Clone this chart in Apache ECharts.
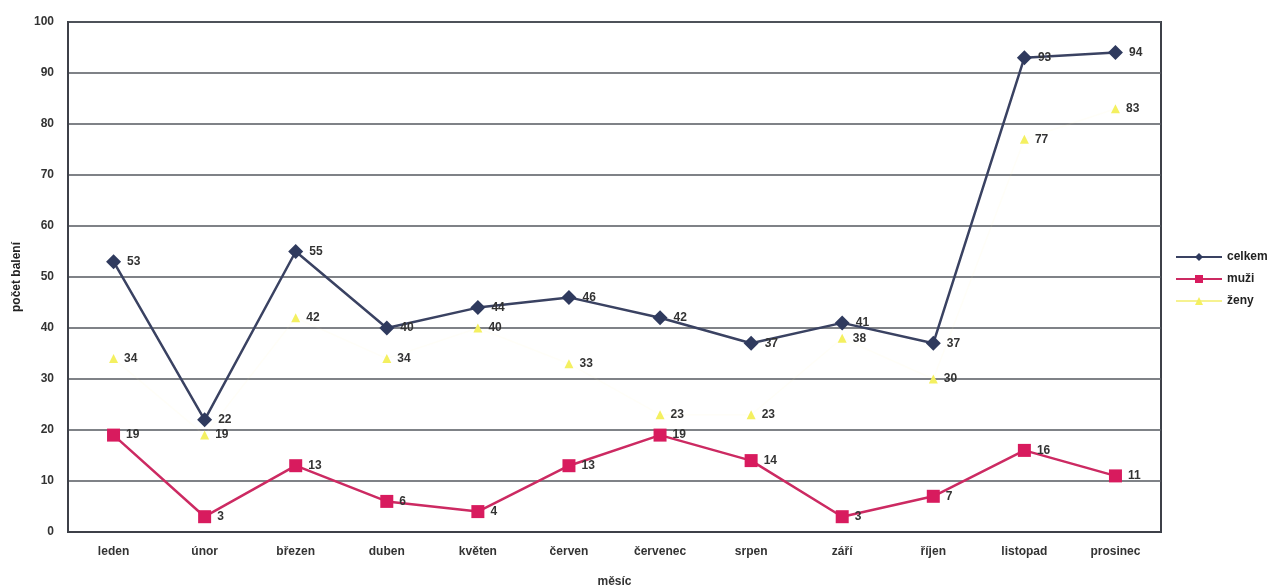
<!DOCTYPE html>
<html><head><meta charset="utf-8">
<script src="https://cdn.jsdelivr.net/npm/echarts@6/dist/echarts.min.js"></script>
<style>html,body{margin:0;padding:0;background:#fff}#c{width:1275px;height:586px}</style>
</head><body><div id="c"></div>
<script>
const categories = ['leden','únor','březen','duben','květen','červen','červenec','srpen','září','říjen','listopad','prosinec'];
const celkem = [53,22,55,40,44,46,42,37,41,37,93,94];
const muzi = [19,3,13,6,4,13,19,14,3,7,16,11];
const zeny = [34,19,42,34,40,33,23,23,38,30,77,83];
const seriesNames = ['celkem','muži','ženy'];

const font = 'Liberation Sans, Arial, sans-serif';
const lbl = {show:true, position:'right', distance:6, fontFamily:font, fontWeight:'bold', fontSize:12, color:'#333'};
const chart = echarts.init(document.getElementById('c'));
chart.setOption({
  animation:false,
  backgroundColor:'#fff',
  grid:{left:68, right:114, top:22, bottom:54, outerBoundsMode:'none', containLabel:false, show:true, borderColor:'#3d4048', borderWidth:2},
  legend:{orient:'vertical', left:1170, top:246, itemGap:10, itemWidth:46, itemHeight:10,
    textStyle:{fontFamily:font, fontWeight:'bold', fontSize:12, color:'#222'},
    data:[{name:seriesNames[0]},{name:seriesNames[1]},{name:seriesNames[2], lineStyle:{color:'#f6f290', opacity:1, width:2}}]},
  xAxis:{type:'category', data:categories, boundaryGap:true, name:'měsíc', nameLocation:'middle', nameGap:44,
    nameTextStyle:{fontFamily:font, fontWeight:'bold', fontSize:12, color:'#333'},
    axisLine:{lineStyle:{color:'#3d4048', width:2}}, axisTick:{show:false},
    axisLabel:{fontFamily:font, fontWeight:'bold', fontSize:12, color:'#333', margin:14}},
  yAxis:{type:'value', min:0, max:100, interval:10, name:'počet balení', nameLocation:'middle', nameGap:40,
    nameTextStyle:{fontFamily:font, fontWeight:'bold', fontSize:12, color:'#222'},
    axisLine:{show:true, lineStyle:{color:'#3d4048', width:2}}, axisTick:{show:false},
    axisLabel:{fontFamily:font, fontWeight:'bold', fontSize:12, color:'#333', margin:14},
    splitLine:{lineStyle:{color:'#55585f', width:1.5}}},
  series:[
    {name:'celkem', type:'line', data:celkem, symbol:'diamond', symbolSize:15,
      itemStyle:{color:'#2f3a5e'}, lineStyle:{color:'#3a4262', width:2.5}, label:lbl, z:3},
    {name:'muži', type:'line', data:muzi, symbol:'rect', symbolSize:13,
      itemStyle:{color:'#d81b5e'}, lineStyle:{color:'#cc2a62', width:2.5}, label:lbl, z:2},
    {name:'ženy', type:'line', data:zeny, symbol:'triangle', symbolSize:9,
      itemStyle:{color:'#f4f060'}, lineStyle:{color:'#faf7a8', width:1.5, opacity:0.08}, label:lbl, z:1}
  ]
});
</script></body></html>
